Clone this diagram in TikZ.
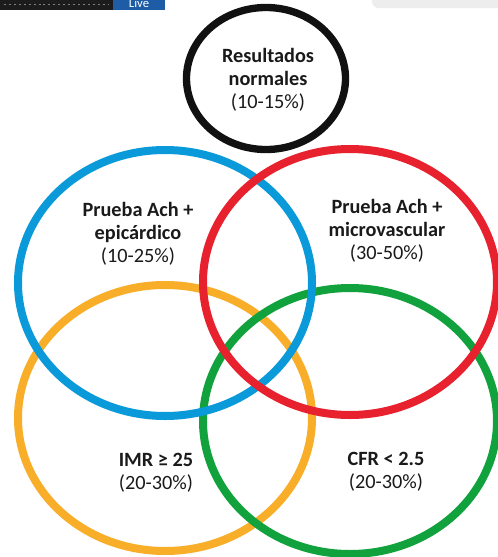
\documentclass[tikz,border=0pt]{standalone}
\usepackage{fontspec}
\setmainfont{Carlito}
\usepackage{tikz}
\usetikzlibrary{positioning,shapes.geometric}
\definecolor{normalring}{HTML}{111111}
\definecolor{epiring}{HTML}{0A9AD9}
\definecolor{microring}{HTML}{E8212E}
\definecolor{imrring}{HTML}{F8AE29}
\definecolor{cfrring}{HTML}{11A23D}
\definecolor{venntxt}{HTML}{1A1A1A}
\definecolor{topbar}{HTML}{1C1C1C}
\definecolor{livetag}{HTML}{1F5CA6}
\definecolor{tabgrey}{HTML}{EDEDED}

\begin{document}
\begin{tikzpicture}[
    x=0.75pt, y=-0.75pt,
    ring/.style = {ellipse, draw, line width=6pt, inner sep=0pt, minimum width=220.5pt, minimum height=199.5pt},
    smallring/.style = {ring, line width=5.5pt, minimum width=119.25pt, minimum height=106.5pt},
    venntext/.style = {align=center, inner sep=0pt, text=venntxt, font=\bfseries\fontsize{15.2}{17.4}\selectfont},
]
    % page
    \fill[white] (0,0) rectangle (498,557);
    \useasboundingbox (0,0) rectangle (498,557);

    % strip along the top
    \fill[topbar] (0,0) rectangle (165,9.5);
    \draw[gray, line width=1pt, dash pattern=on 1.5pt off 2.2pt] (4,4.5) -- (108,4.5);
    \fill[livetag] (113,0) rectangle (165,9.5);
    \node[text=white, font=\fontsize{9.5}{9.5}\selectfont, inner sep=0pt] (live) at (139,3.5) {Live};
    \fill[tabgrey, rounded corners=5pt] (372,-12) rectangle (510,8);

    % rings
    \node[ring, draw=imrring] (imr) at (165,418) {};
    \node[ring, draw=cfrring] (cfr) at (350,421) {};
    \node[ring, draw=epiring] (epi) at (165,283) {};
    \node[ring, draw=microring] (micro) at (350,282) {};
    \node[smallring, draw=normalring] (normal) at (266,78.5) {};

    % labels
    \node[venntext] (normaltext) at (268,80) {Resultados\\ normales\\ \mdseries(10-15\%)};
    \node[venntext] (epitext) at (138,234) {Prueba Ach +\\ epicárdico\\ \mdseries(10-25\%)};
    \node[venntext] (microtext) at (387,231) {Prueba Ach +\\ microvascular\\ \mdseries(30-50\%)};
    \node[venntext] (imrtext) at (156,473) {IMR ≥ 25\\ \mdseries(20-30\%)};
    \node[venntext] (cfrtext) at (386,472) {CFR < 2.5\\ \mdseries(20-30\%)};

\end{tikzpicture}
\end{document}
